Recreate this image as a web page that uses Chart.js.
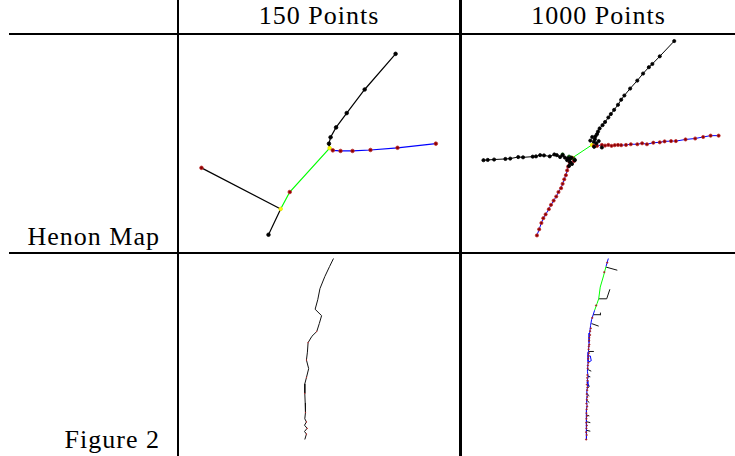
<!DOCTYPE html>
<html>
<head>
<meta charset="utf-8">
<script src="https://cdn.jsdelivr.net/npm/chart.js@4/dist/chart.umd.min.js"></script>
<style>
  html, body { margin: 0; padding: 0; background: #fff; }
  #page { position: relative; width: 735px; height: 456px; overflow: hidden; background: #fff; }
  .rule { position: absolute; background: #000; }
  .lbl { position: absolute; font-family: "Liberation Serif", "Times New Roman", Times, "DejaVu Serif", serif; font-size: 26px;
         line-height: 26px; letter-spacing: 1px; color: #000; white-space: nowrap; }
  canvas { position: absolute; }
</style>
</head>
<body>
<div id="page">
  <div class="rule" style="left:177px;top:0;width:2px;height:456px"></div>
  <div class="rule" style="left:459px;top:0;width:3px;height:456px"></div>
  <div class="rule" style="left:9px;top:33px;width:726px;height:2px"></div>
  <div class="rule" style="left:9px;top:252px;width:726px;height:2px"></div>

  <div class="lbl" id="colA" style="left:179px;width:280px;top:3px;text-align:center"></div>
  <div class="lbl" id="colB" style="left:462px;width:273px;top:3px;text-align:center"></div>
  <div class="lbl" id="rowA" style="left:0;width:160px;top:224px;text-align:right"></div>
  <div class="lbl" id="rowB" style="left:0;width:160px;top:427px;text-align:right"></div>

  <canvas id="tl" width="280" height="216" style="left:179px;top:35px"></canvas>
  <canvas id="tr" width="273" height="216" style="left:462px;top:35px"></canvas>
  <canvas id="bl" width="280" height="202" style="left:179px;top:254px"></canvas>
  <canvas id="br" width="273" height="202" style="left:462px;top:254px"></canvas>
</div>
<script>
// Header and row labels
const columnLabels = ["150 Points", "1000 Points"];
const rowLabels = ["Henon Map", "Figure 2"];

// ---- Henon map, 150 points: tree branches (x, y in plot units) ----
const h150Upper = [[330,148.3],[329.3,143.7],[331,137],[336.7,126.7],[347.7,111.7],[366.3,87],[398.3,49.7]];
const h150Right = [[330,148.3],[333.3,150.7],[341.3,151.3],[353.7,151.3],[372.3,150.3],[400.3,148],[440,143.7]];
const h150Green = [[330,148.3],[288.7,194.3],[279.3,212]];
const h150Left  = [[197.3,169],[279.3,212],[266.7,239]];
const h150BlackPts  = [[329.3,143.7],[331,137],[336.7,126.7],[347.7,111.7],[366.3,87],[398.3,49.7],[266.7,239]];
const h150RedPts    = [[333.3,150.7],[341.3,151.3],[353.7,151.3],[372.3,150.3],[400.3,148],[440,143.7],[288.7,194.3],[197.3,169]];
const h150YellowPts = [[330,148.3],[279.3,212]];

// ---- Henon map, 1000 points ----
const h1000Upper = [[592,144],[593.7,141.7],[594.7,139],[595.3,136],[597,133.7],[598,131],[599.7,127.7],[602.7,124.3],
  [605.3,121],[608.7,116.3],[611.3,112.7],[614.7,108.3],[618.7,103],[622,97.7],[625.3,93.3],[631.3,86],[638.7,77.7],
  [644.7,70.3],[650.7,63.7],[654.3,60.3],[662,52.3],[677,36.3]];
const h1000Left = [[479.3,161],[483.7,160.7],[490.3,160.3],[502,159.7],[507,159.3],[515.3,157.7],[520.3,158],[530.3,157.3],
  [533.7,157],[538,155.7],[542,156],[548,157],[552.7,155],[555.3,155.7],[558.7,157.7],[561.3,155.7],[563.7,158.3],
  [567,159],[568.7,160],[570.3,158.3]];
const h1000Right = [[592,145.5],[593.7,146],[597,146],[602,145],[605.3,145.7],[608.7,145],[612,146],[615.3,145.3],[618.7,145],
  [622,145.3],[627,145],[632,144.3],[638.7,144.3],[643.7,143.3],[648.7,144.3],[655.3,142.7],[662,142.3],[667,141.3],
  [673.7,141],[678.7,141],[688.7,139.3],[698.7,138.3],[707,136.7],[714.7,135.3],[723,135.3]];
const h1000Lower = [[572,159],[573,162],[568.7,163.3],[567,167.7],[566,171.7],[564.7,176.7],[563,181],[561.3,185.7],
  [559.7,190.3],[557,194.3],[554.7,199],[552,203.3],[549.3,207.7],[547,212.3],[543.7,217.7],[541.3,221.7],
  [539.3,226.7],[537,233.3],[534.7,239.7]];
const h1000Green = [[591.7,145],[571.5,158.5]];
const h1000ClusterBlack = [[592,136.7],[596.3,143.3],[598.7,141],[602,147.7],[590,140.5],[594,147],[566,161],[569,163],
  [571,165],[574,161],[568,167]];
const h1000DarkGreen = [[561.3,155],[568,157.3],[573.5,160]];
const h1000YellowPts = [[591.7,145],[596,145.5],[571.5,158.5]];

// ---- Figure 2, 150 points ----
const f150Path = [[334,253.7],[330,262],[325,272.7],[320,285.3],[317.7,297],[315,307],[321.7,313.7],[319.3,322],
  [316.7,330.3],[311.7,335.3],[307.7,342],[307,352],[306,360.3],[308.3,369.3],[306,378.7],[304.3,385.3],[304.3,395.3],
  [304.7,405.3],[305,415.3],[304.3,422],[306,425.3],[304,428.7],[306.7,432],[304,435.3],[306,438],[304.3,443.7]];
const f150RedPts = [[316.7,330.3],[307.7,342],[306,360.3],[306,378.7],[304.3,395.3],[305,415.3],[306,425.3],[306.7,432],[306,438]];

// ---- Figure 2, 1000 points ----
const f1000Top   = [[608.7,253.7],[606.3,262]];
const f1000Green = [[606.3,262],[603.7,272],[600.3,283.7],[598.7,296],[597,301],[594.5,308]];
const f1000Blue  = [[594.5,308],[593,312.7],[591.3,318],[590.3,324],[589.3,332],[588.7,342],[588,352],[587.7,362],
  [587,372],[587.8,378],[586.7,382],[587.5,388],[586.3,392],[586.8,398],[586,402],[586.6,408],[586,412],[586.4,418],
  [585.7,422],[586.3,427],[585.7,432],[586.2,438],[585.7,443.7]];
const f1000RedPts = [[607.5,258],[604.5,268],[596,303],[592,316],[590.5,327],[589.8,330],[589,337],[588.8,340],[588.5,346],
  [588.2,349],[588,356],[587.8,359],[587.5,366],[587.3,369],[587,376],[586.8,379],[586.5,386],[587,389],[586.3,396],
  [586.9,399],[586,406],[586.7,409],[586,416],[586.4,419],[585.8,426],[586.4,429],[585.7,436],[586.2,439],[585.7,443.7],
  [587.2,382],[586.8,392],[586.5,402],[586.2,412],[586,422],[586,432],[588,363],[588.5,353],[589,344],[589.8,334]];
const f1000Ticks = [
  [[606.3,262.7],[618,266]],
  [[598.7,296],[607,296],[610.3,286]],
  [[593,312.7],[601,312.7],[600.5,310.5]],
  [[591.3,322],[598.7,324.7]],
  [[588.7,351.3],[593.7,351.3]],
  [[587,370],[591,372]],
  [[587,377],[590,378]],
  [[586.5,384],[589,388],[587,390]],
  [[586,395],[589,398]],
  [[585.8,402],[589,405]],
  [[586,418],[589,419]],
  [[586,425],[590,426]],
  [[585.7,434],[590,435]]
];
const f1000BlueHook = [[587.5,356],[590,356],[591,361],[588,362.5]];

const pts = a => a.map(p => ({ x: p[0], y: p[1] }));

function line(data, color, width) {
  return { data: pts(data), showLine: true, borderColor: color, borderWidth: width || 1.2,
           pointRadius: 0, fill: false, order: 2 };
}
function dots(data, fill, edge, r) {
  return { data: pts(data), showLine: false, pointRadius: r, backgroundColor: fill,
           borderColor: edge, borderWidth: 0.8, order: 0 };
}

function panel(id, x0, x1, y0, y1, datasets) {
  datasets.forEach(d => { d.clip = false; });
  return new Chart(document.getElementById(id), {
    type: 'scatter',
    data: { datasets },
    options: {
      responsive: false,
      animation: false,
      events: [],
      layout: { padding: 0 },
      plugins: { legend: { display: false }, tooltip: { enabled: false } },
      scales: {
        x: { type: 'linear', display: false, min: x0, max: x1 },
        y: { type: 'linear', display: false, min: y0, max: y1, reverse: true }
      }
    }
  });
}

document.getElementById('colA').textContent = columnLabels[0];
document.getElementById('colB').textContent = columnLabels[1];
document.getElementById('rowA').textContent = rowLabels[0];
document.getElementById('rowB').textContent = rowLabels[1];

const BLACK = '#000000', BLUE = '#0000ff', GREEN = '#00ff00', RED = '#8b0000', REDEDGE = '#c23030',
      YELLOW = '#ffff00', DKGREEN = '#0b5a0b';

panel('tl', 179, 459, 35, 251, [
  line(h150Upper, BLACK), line(h150Right, BLUE), line(h150Green, GREEN), line(h150Left, BLACK),
  dots(h150BlackPts, BLACK, BLACK, 1.8), dots(h150RedPts, RED, REDEDGE, 1.8), dots(h150YellowPts, YELLOW, '#e6e600', 1.8)
]);

panel('tr', 462, 735, 35, 251, [
  line(h1000Upper, BLACK, 1), line(h1000Left, BLACK, 1), line(h1000Right, BLUE, 1), line(h1000Lower, BLUE, 1),
  line(h1000Green, GREEN, 1),
  dots(h1000Upper.slice(1), BLACK, BLACK, 1.6), dots(h1000Left, BLACK, BLACK, 1.6),
  dots(h1000ClusterBlack, BLACK, BLACK, 1.6), dots(h1000DarkGreen, DKGREEN, DKGREEN, 1.6),
  dots(h1000Right.slice(1), RED, REDEDGE, 1.6), dots(h1000Lower, RED, REDEDGE, 1.6),
  dots(h1000YellowPts, YELLOW, '#e6e600', 1.6)
]);

panel('bl', 179, 459, 254, 456, [
  line(f150Path, '#111111', 1), dots(f150RedPts, '#d03030', '#d03030', 0.3)
]);

panel('br', 462, 735, 254, 456, [
  line(f1000Top, BLUE, 1), line(f1000Green, GREEN, 1), line(f1000Blue, BLUE, 1), line(f1000BlueHook, BLUE, 1),
  ...f1000Ticks.map(t => line(t, '#111111', 1)),
  dots(f1000RedPts, RED, '#b03030', 0.7)
]);
</script>
</body>
</html>
